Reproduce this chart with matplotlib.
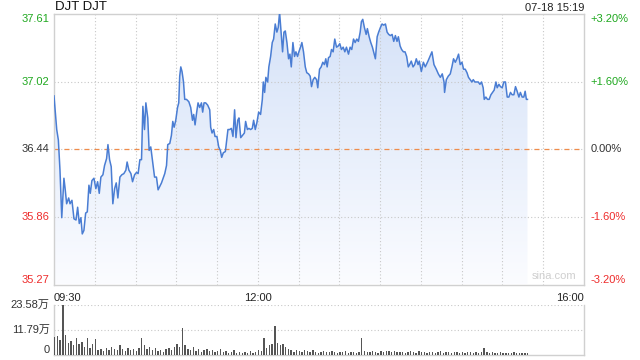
import numpy as np
import matplotlib
matplotlib.use("Agg")
import matplotlib.pyplot as plt
from matplotlib.colors import LinearSegmentedColormap
from matplotlib.patches import Polygon

# --- data (minutes after 09:30, price) ---
prev_close = 36.44
title = "DJT DJT"
stamp = "07-18 15:19"

minutes = [
    0, 2, 3.2, 4.4, 5.7, 7.3, 8.1, 9.3, 10.8, 11.8, 13.2, 14.7, 16.2, 17.4, 18.6, 19.8,
    20.8, 22, 23.3, 24.5, 25.7, 26.7, 27.9, 29.4, 30.8, 32.1, 33.3, 34.5, 36, 37.2, 38.7,
    39.7, 40.9, 42.1, 43.3, 44.6, 45.8, 47, 48.5, 49.9, 51.4, 52.9, 53.8, 55.1, 56.6, 57.8,
    59.3, 60.7, 61.9, 63.2, 64.4, 65.4, 66.6, 67.6, 69, 70, 71.2, 72.7, 74, 75.4, 76.6,
    79.1, 81.5, 82.8, 83.7, 85.2, 86.4, 87.4, 88.4, 89.6, 90.9, 91.8, 92.5, 93.3, 94.2,
    95.3, 96.2, 97.5, 99.2, 100.6, 101.9, 102.8, 103.8, 105, 106, 107.2, 108.5, 109.4,
    110.4, 111.6, 113.1, 114.6, 115.3, 116.3, 117.5, 118.5, 119.9, 121.2, 122.4, 123.4,
    124.6, 126.1, 127.1, 128, 129.3, 130.5, 131.7, 132.9, 133.9, 135.2, 136.1, 137.4,
    138.8, 140.1, 141, 142.3, 143.4, 144.7, 145.9, 146.9, 148.1, 149.3, 150.6, 152, 153.3,
    154, 155, 155.9, 157.2, 158.1, 159.4, 160.6, 161.6, 162.8, 164, 165, 166, 166.9, 168.2,
    169.2, 170.2, 171.4, 172.6, 173.6, 174.6, 175.8, 177, 178, 179.2, 180.2, 181.4, 182.4,
    183.6, 184.9, 186, 187.3, 188.5, 189.5, 190.7, 191.9, 193.2, 194.1, 195.4, 196.6,
    197.8, 199, 200, 201, 202, 203.2, 204.2, 205.4, 206.6, 207.9, 209.1, 210.3, 211.5,
    212.8, 214, 215.2, 216.7, 217.9, 219.1, 220.4, 221.6, 222.8, 224, 225.3, 226.2, 227.2,
    228.4, 229.7, 230.6, 231.9, 233.1, 234.3, 235.6, 236.5, 237.8, 238.9, 240.2, 241.4,
    242.6, 243.9, 245.1, 246.3, 247.5, 248.8, 250, 251.2, 252.4, 253.4, 254.7, 255.8,
    257.1, 258.3, 259.5, 260.7, 261.7, 262.9, 264.2, 265.4, 266.6, 267.9, 268.8, 270.3,
    271.8, 273.2, 275.2, 278.1, 279.6, 281.3, 282.8, 284.3, 285.7, 287, 287.4, 288.7,
    290.1, 291.6, 292.8, 294, 295.3, 296.5, 297.7, 298.9, 300.2, 301.4, 302.6, 303.9, 305,
    306.3, 307.5, 308.5, 309.7, 310.9, 312.2, 313.4, 314.6, 315.8, 316.6, 317.8, 319,
    320.2, 321.5, 322.7, 323.9, 325.2, 326.1, 327.4, 328.5, 329.8, 331, 332.2, 333.5,
    334.7, 335.9, 337.1, 338.4, 339.6, 340.8, 342.1, 343.2, 344.5, 345.7, 346.7, 347.6, 348.4,
]
prices = [
    36.90, 36.61, 36.52, 36.26, 35.85, 36.19, 36.11, 35.97, 36.02, 35.97, 36.00, 35.84,
    35.83, 35.94, 35.80, 35.85, 35.71, 35.74, 35.89, 35.90, 36.13, 36.06, 36.17, 36.19,
    36.10, 36.16, 36.06, 36.20, 36.22, 36.30, 36.36, 36.48, 36.35, 36.29, 35.97, 36.10,
    36.15, 36.02, 36.20, 36.22, 36.23, 36.26, 36.33, 36.26, 36.23, 36.16, 36.22, 36.24,
    36.23, 36.35, 36.35, 36.81, 36.61, 36.84, 36.71, 36.43, 36.46, 36.32, 36.20, 36.20,
    36.09, 36.15, 36.23, 36.30, 36.48, 36.49, 36.56, 36.68, 36.63, 36.69, 36.80, 36.84,
    37.07, 37.15, 37.11, 37.02, 36.87, 36.87, 36.85, 36.80, 36.69, 36.74, 36.65, 36.76,
    36.84, 36.80, 36.84, 36.76, 36.84, 36.84, 36.82, 36.78, 36.63, 36.58, 36.61, 36.55,
    36.55, 36.46, 36.43, 36.37, 36.41, 36.42, 36.52, 36.61, 36.61, 36.62, 36.55, 36.78,
    36.54, 36.69, 36.71, 36.54, 36.56, 36.58, 36.68, 36.61, 36.62, 36.61, 36.62, 36.69,
    36.61, 36.67, 36.76, 36.74, 36.87, 37.02, 36.93, 37.06, 37.02, 37.15, 37.24, 37.36,
    37.39, 37.52, 37.45, 37.49, 37.62, 37.48, 37.28, 37.45, 37.46, 37.36, 37.22, 37.26,
    37.15, 37.36, 37.24, 37.28, 37.24, 37.28, 37.32, 37.36, 37.28, 37.15, 37.10, 37.09,
    37.07, 36.98, 37.04, 37.06, 37.04, 36.97, 37.13, 37.15, 37.19, 37.17, 37.22, 37.15,
    37.23, 37.24, 37.30, 37.28, 37.39, 37.32, 37.33, 37.35, 37.30, 37.32, 37.28, 37.32,
    37.26, 37.32, 37.30, 37.39, 37.36, 37.39, 37.37, 37.45, 37.54, 37.56, 37.49, 37.43,
    37.48, 37.41, 37.36, 37.32, 37.26, 37.22, 37.41, 37.45, 37.49, 37.52, 37.51, 37.52,
    37.45, 37.43, 37.42, 37.43, 37.37, 37.42, 37.37, 37.41, 37.33, 37.30, 37.28, 37.28,
    37.24, 37.15, 37.17, 37.20, 37.15, 37.17, 37.22, 37.17, 37.20, 37.11, 37.19, 37.15,
    37.20, 37.28, 37.17, 37.13, 37.09, 37.06, 37.09, 37.02, 36.93, 37.04, 37.07, 37.09,
    37.15, 37.22, 37.19, 37.22, 37.26, 37.17, 37.19, 37.13, 37.13, 37.10, 37.06, 37.04,
    37.02, 37.04, 37.02, 37.02, 37.02, 37.00, 37.02, 36.97, 36.87, 36.89, 36.87, 36.87,
    36.91, 36.93, 36.95, 37.02, 36.97, 37.00, 36.98, 36.97, 37.02, 37.02, 36.89, 36.89,
    36.93, 36.91, 36.91, 36.98, 36.94, 36.89, 36.93, 36.89, 36.89, 36.94, 36.87, 36.87,
]

# volume, one bar per two minutes, in units of 万 shares
vol_minutes = list(range(0, 350, 2))
volumes = [
    8.5, 9.0, 7.0, 23.58, 9.5, 5.5, 6.5, 4.5, 8.0, 5.0, 6.0, 4.0, 8.0, 3.5, 5.0, 7.5,
    2.5, 3.0, 2.0, 3.5, 2.5, 4.0, 3.0, 2.5, 4.5, 3.0, 2.0, 3.5, 2.5, 3.0, 2.0, 3.5,
    8.0, 4.5, 3.0, 4.0, 2.5, 3.5, 2.0, 2.5, 1.5, 3.0, 3.5, 2.5, 4.0, 5.0, 4.0, 12.5,
    4.5, 3.0, 2.5, 4.0, 2.0, 3.0, 1.5, 2.5, 3.0, 2.0, 2.5, 1.5, 2.0, 3.0, 1.5, 2.0,
    1.0, 1.5, 2.5, 1.0, 1.5, 0.8, 1.2, 0.8, 2.0, 1.0, 1.5, 2.5, 2.0, 8.0, 3.5, 4.5,
    5.0, 13.5, 5.5, 4.5, 5.0, 4.0, 3.0, 2.5, 1.5, 2.5, 2.0, 1.5, 2.5, 2.0, 1.5, 2.5,
    1.5, 1.0, 1.5, 1.8, 1.2, 1.5, 2.0, 1.2, 1.0, 1.5, 1.2, 1.8, 1.0, 1.5, 1.2, 1.0,
    1.5, 8.0, 2.0, 1.5, 1.2, 1.8, 1.5, 1.0, 2.0, 1.5, 1.8, 2.0, 1.2, 1.8, 1.5, 1.2,
    1.5, 1.0, 1.5, 1.8, 1.2, 1.0, 2.0, 1.5, 1.2, 1.0, 1.5, 1.2, 1.0, 1.5, 1.8, 1.0,
    1.2, 1.5, 1.0, 1.2, 1.5, 1.0, 1.2, 1.0, 1.5, 1.2, 1.0, 1.2, 1.0, 1.5, 3.5, 1.5,
    1.0, 1.2, 1.0, 0.8, 1.2, 1.0, 0.8, 1.0, 0.8, 1.2, 0.8, 1.0, 0.8, 1.0, 0.8,
]
vol_max = 23.58

time_ticks = [0, 150, 390]
time_labels = ["09:30", "12:00", "16:00"]
pct_levels = [0.032, 0.016, 0.0, -0.016, -0.032]

GREEN = "#1fa81f"
RED = "#ee2c2c"
DARK = "#333333"
GRID = "#c8c8c8"
LINE = "#4a7dd3"
FONT = ["Liberation Sans", "Noto Sans CJK SC", "DejaVu Sans"]
plt.rcParams["font.family"] = FONT

fig = plt.figure(figsize=(6.4, 3.6), dpi=100)
ax = fig.add_axes([54 / 640, 1 - 284.5 / 360, 530 / 640, 270.5 / 360])
axv = fig.add_axes([54 / 640, 1 - 355 / 360, 530 / 640, 50 / 360])

lo = prev_close * (1 - 0.032)
hi = prev_close * (1 + 0.032)
ax.set_xlim(0, 390)
ax.set_ylim(lo, hi)

# gradient fill under the line
cmap = LinearSegmentedColormap.from_list("fill", ["#d5e2f8", "#fbfcff"])
grad = np.linspace(0, 1, 256).reshape(-1, 1)
im = ax.imshow(grad, extent=[0, 390, lo, hi], aspect="auto", cmap=cmap,
               origin="upper", zorder=1)
verts = list(zip(minutes, prices)) + [(minutes[-1], lo), (minutes[0], lo)]
clip = Polygon(verts, closed=True, transform=ax.transData)
im.set_clip_path(clip)

ax.plot(minutes, prices, color=LINE, lw=1.1, zorder=3)

# grid
for m in range(30, 390, 30):
    ax.axvline(m, color=GRID, lw=0.8, ls=(0, (1, 2)), zorder=2)
for p in pct_levels[1:-1]:
    if p != 0:
        ax.axhline(prev_close * (1 + p), color=GRID, lw=0.8, ls=(0, (1, 2)), zorder=2)
ax.axhline(prev_close, color=GRID, lw=0.8, ls=(0, (1, 2)), zorder=2)
ax.axhline(prev_close, color="#f08c4a", lw=0.9, ls=(0, (4, 4)), zorder=2)

for s in ax.spines.values():
    s.set_color("#d0d0d0")
    s.set_linewidth(1)
ax.set_xticks([])
ax.set_yticks([])

# price and percent labels
for p in pct_levels:
    val = prev_close * (1 + p)
    col = GREEN if p > 0 else (RED if p < 0 else DARK)
    va = "top" if p == pct_levels[0] else ("bottom" if p == pct_levels[-1] else "center")
    ax.text(-0.008, val, f"{val:.2f}", transform=ax.get_yaxis_transform(),
            ha="right", va=va, fontsize=8, color=col)
    sign = "+" if p > 0 else ""
    ax.text(1.012, val, f"{sign}{p * 100:.2f}%", transform=ax.get_yaxis_transform(),
            ha="left", va=va, fontsize=8, color=col)

for t, lab in zip(time_ticks, time_labels):
    ha = "left" if t == 0 else ("right" if t == 390 else "center")
    ax.text(t, -0.03, lab, transform=ax.get_xaxis_transform(), ha=ha, va="top",
            fontsize=8, color="#222222")

ax.text(0.985, 0.012, "sina.com", transform=ax.transAxes, ha="right", va="bottom",
        fontsize=8, color="#cfcfcf")

fig.text(55 / 640, 1 - 7.5 / 360, title, ha="left", va="center", fontsize=9.5, color="#111111")
fig.text(584 / 640, 1 - 8 / 360, stamp, ha="right", va="center", fontsize=8, color="#222222")

# volume panel
axv.set_xlim(0, 390)
axv.set_ylim(0, vol_max)
axv.bar(vol_minutes, volumes, width=1.0, color="#555555", align="edge", zorder=3)
axv.axhline(vol_max, color=GRID, lw=0.8, ls=(0, (1, 2)), zorder=2)
axv.axhline(vol_max / 2, color=GRID, lw=0.8, ls=(0, (1, 2)), zorder=2)
axv.spines["top"].set_visible(False)
for k in ["left", "right", "bottom"]:
    axv.spines[k].set_color("#d0d0d0")
    axv.spines[k].set_linewidth(1)
axv.set_xticks([])
axv.set_yticks([])
for v, lab, va in [(vol_max, f"{vol_max:.2f}万", "center"),
                   (vol_max / 2, f"{vol_max / 2:.2f}万", "center"),
                   (0, "0", "bottom")]:
    axv.text(-0.008, v, lab, transform=axv.get_yaxis_transform(), ha="right", va=va,
             fontsize=8, color=DARK)

fig.savefig("out.png", dpi=100)
